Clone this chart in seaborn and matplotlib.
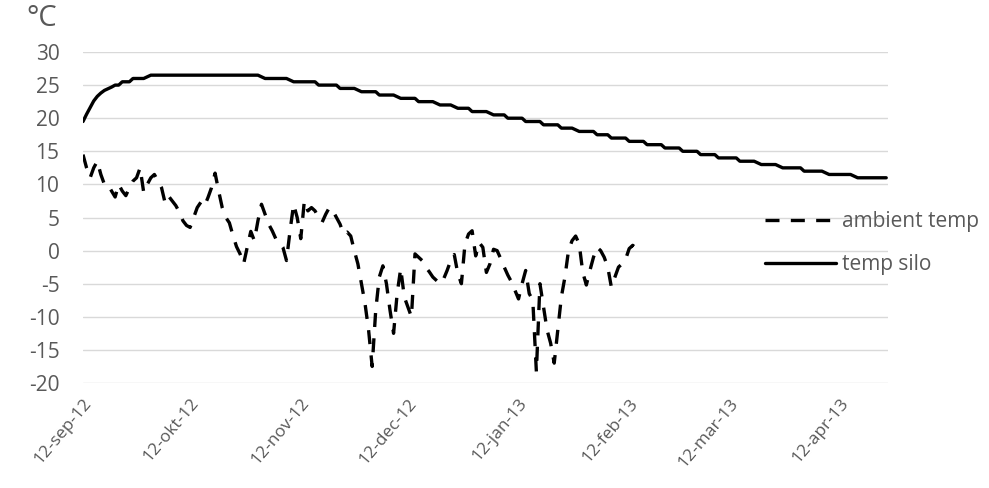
import matplotlib
matplotlib.use("Agg")
import matplotlib.pyplot as plt
import matplotlib.transforms as mtransforms
import seaborn as sns
import pandas as pd
import numpy as np

# ---------------- data ----------------
start_date = "2012-09-12"

# daily ambient temperature (one value per day from start_date)
ambient_temp = [
    14.5, 12.5, 11, 12.5, 13.5, 11.5, 10, 10, 9, 8.1,
    10, 9, 8.3, 9.5, 10.5, 11, 12.5, 8.8, 10, 11,
    11.5, 10.5, 9.5, 7.2, 8.2, 7.5, 6.8, 5.8, 4.5, 3.8,
    3.5, 5, 6.5, 7.3, 6.7, 8, 9.5, 11.7, 9, 6.5,
    5, 4.2, 2.3, 0.6, -0.5, -2, 0.5, 2.9, 1.5, 4.5,
    7, 5.5, 4, 3, 1.8, 1.3, 0.5, -1.5, 3, 7,
    5, 1.8, 7.5, 6, 6.5, 6, 5, 4.3, 5.5, 6.5,
    6, 5, 4, 2.5, 2.8, 2.2, 0, -2, -5, -8,
    -12, -17.5, -9, -4, -2.3, -5, -9, -12.5, -6.5, -2.7,
    -7, -8.5, -10, -0.5, -1, -1.5, -2.5, -3.2, -4, -4.5,
    -5, -4.3, -3, -1.5, -0.6, -3.5, -5, 1, 2.5, 3,
    -0.8, 1.2, 0.5, -3.3, -2, 0.2, 0, -1.2, -2.5, -3.7,
    -4.7, -6, -7.3, -5, -3, -6.5, -7.5, -18.3, -5, -8.5,
    -12, -14, -17, -12, -7, -4, 0, 1.5, 2.2, 1,
    -3.3, -5.2, -3, -1, 0.5, 0, -1, -2.5, -5.5, -4,
    -2.5, -2, -1.3, 0.3, 0.8, 0.3, -0.5,
]

# silo temperature read at its turning points (day offset from start_date)
silo_day = [0, 1, 2, 3, 4, 5, 6, 8, 9, 10, 11, 13, 14, 17, 19, 49, 51, 57, 59, 65,
            66, 71, 72, 76, 78, 82, 83, 87, 89, 93, 94, 98, 100, 103, 105, 108,
            109, 113, 115, 118, 119, 123, 124, 128, 129, 133, 134, 137, 139, 143,
            144, 147, 148, 152, 153, 157, 158, 162, 163, 167, 168, 172, 173, 177,
            178, 183, 184, 188, 190, 194, 196, 201, 202, 207, 209, 215, 217, 225]
silo_temp = [19.5, 20.6, 21.6, 22.6, 23.3, 23.8, 24.2, 24.7, 25, 25, 25.5, 25.5, 26, 26,
             26.5, 26.5, 26, 26, 25.5, 25.5, 25, 25, 24.5, 24.5, 24, 24, 23.5, 23.5,
             23, 23, 22.5, 22.5, 22, 22, 21.5, 21.5, 21, 21, 20.5, 20.5, 20, 20,
             19.5, 19.5, 19, 19, 18.5, 18.5, 18, 18, 17.5, 17.5, 17, 17, 16.5, 16.5,
             16, 16, 15.5, 15.5, 15, 15, 14.5, 14.5, 14, 14, 13.5, 13.5, 13, 13,
             12.5, 12.5, 12, 12, 11.5, 11.5, 11, 11]

tick_dates = ["2012-09-12", "2012-10-12", "2012-11-12", "2012-12-12",
              "2013-01-12", "2013-02-12", "2013-03-12", "2013-04-12"]
tick_labels = ["12-sep-12", "12-okt-12", "12-nov-12", "12-dec-12",
               "12-jan-13", "12-feb-13", "12-mar-13", "12-apr-13"]
y_ticks = [-20, -15, -10, -5, 0, 5, 10, 15, 20, 25, 30]

# ---------------- frames ----------------
t0 = pd.Timestamp(start_date)
amb_df = pd.DataFrame({
    "date": pd.date_range(t0, periods=len(ambient_temp), freq="D"),
    "temp": ambient_temp,
})
silo_df = pd.DataFrame({
    "date": t0 + pd.to_timedelta(silo_day, unit="D"),
    "temp": silo_temp,
})

# ---------------- style ----------------
sns.set_theme(style="white")
plt.rcParams["font.family"] = ["Open Sans", "DejaVu Sans"]
txt_color = "#595959"

fig = plt.figure(figsize=(9.89, 4.88), dpi=100)
ax = fig.add_axes([83 / 989, 1 - 383 / 488, (888 - 83) / 989, (383 - 52) / 488])

sns.lineplot(data=amb_df, x="date", y="temp", ax=ax, color="black", lw=2.4,
             linestyle=(0, (4.2, 3.4)), estimator=None, sort=False,
             label="ambient temp")
sns.lineplot(data=silo_df, x="date", y="temp", ax=ax, color="black", lw=2.4,
             estimator=None, sort=False, label="temp silo")

ax.set_ylim(-20, 30)
ax.set_xlim(t0, t0 + pd.Timedelta(days=225.5))
ax.set_yticks(y_ticks)
ax.set_yticklabels([str(v) for v in y_ticks])
ax.set_xticks(pd.to_datetime(tick_dates))
ax.set_xticklabels(tick_labels, rotation=50, ha="right", rotation_mode="anchor")
shift = mtransforms.ScaledTranslation(3 / 100, 3 / 100, fig.dpi_scale_trans)
for lab in ax.get_xticklabels():
    lab.set_transform(lab.get_transform() + shift)

ax.grid(axis="y", color="#d9d9d9", lw=1.0)
ax.grid(axis="x", visible=False)
for s in ax.spines.values():
    s.set_visible(False)
ax.tick_params(axis="y", length=0, pad=17, labelsize=15, labelcolor=txt_color)
ax.tick_params(axis="x", length=0, pad=9, labelsize=12.5, labelcolor=txt_color)
ax.set_xlabel("")
ax.set_ylabel("")

fig.text(26 / 989, 1 - 4 / 488, "°C", ha="left", va="top", fontsize=21, color=txt_color)

leg = ax.legend(loc="center left", bbox_to_anchor=(765 / 989, 1 - 243 / 488),
                bbox_transform=fig.transFigure, frameon=False, fontsize=15,
                handlelength=3.4, handletextpad=0.3, labelspacing=1.05,
                borderaxespad=0, borderpad=0)
for t in leg.get_texts():
    t.set_color(txt_color)

fig.savefig("out.png", dpi=100)
